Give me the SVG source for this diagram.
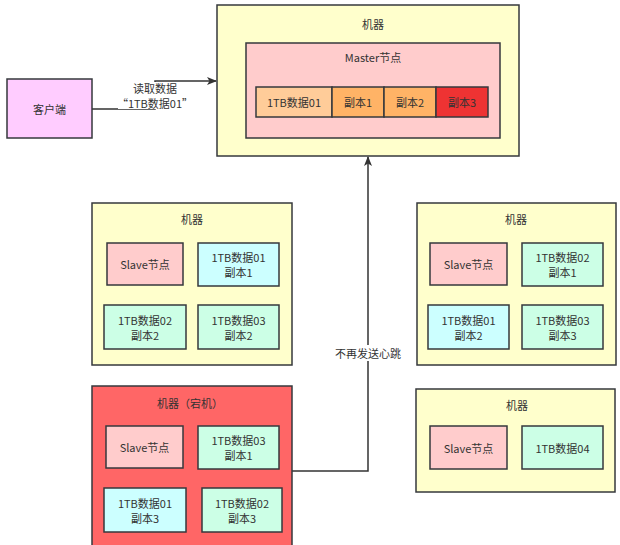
<svg xmlns="http://www.w3.org/2000/svg" width="620" height="545" viewBox="0 0 620 545">
  <defs>
    <marker id="arrow" markerWidth="10" markerHeight="10" refX="9" refY="5" orient="auto" markerUnits="userSpaceOnUse">
      <path d="M0,1 L10,5 L0,9 L2.5,5 Z" fill="#333"/>
    </marker>
    <style>
      text { font-family: "Noto Sans CJK SC", "Noto Sans", sans-serif; font-size: 11px; fill: #333; text-anchor: middle; dominant-baseline: central; }
      rect { stroke: #36393d; stroke-width: 1.5; }
      .machine { fill: #ffffcc; }
      .down { fill: #ff6666; }
      .slave { fill: #ffcccc; }
      .cyan { fill: #ccffff; }
      .mint { fill: #ccffe6; }
      .data { fill: #ffcc99; }
      .copy { fill: #ffb366; }
      .lost { fill: #ee3333; }
      .client { fill: #ffccff; }
      .edge { fill: none; stroke: #333; stroke-width: 1.5; }
      .lbl, .bg { fill: #ffffff; stroke: none; }
    </style>
  </defs>
  <rect class="bg" x="0" y="0" width="620" height="545"/>

  <!-- connectors -->
  <g id="connectors">
    <path class="edge" d="M92,109 H155 V81 H216" marker-end="url(#arrow)"/>
    <rect class="lbl" x="118" y="82" width="76" height="27"/>
    <text x="155" y="88">读取数据</text>
    <text x="155" y="103">“1TB数据01”</text>

    <path class="edge" d="M292,471 H368 V157" marker-end="url(#arrow)"/>
    <rect class="lbl" x="334" y="345" width="68" height="16"/>
    <text x="368" y="353">不再发送心跳</text>
  </g>

  <!-- client -->
  <g id="client">
    <rect class="client" x="7" y="79" width="85" height="59"/>
    <text x="49.5" y="109">客户端</text>
  </g>

  <!-- master machine -->
  <g id="master-machine">
    <rect class="machine" x="217" y="5" width="302" height="151"/>
    <text x="373" y="24">机器</text>
    <g id="master-node">
      <rect class="slave" x="246" y="43" width="254" height="95"/>
      <text x="373" y="57">Master节点</text>
      <rect class="data" x="256" y="87" width="76" height="30"/>
      <text x="294" y="102">1TB数据01</text>
      <rect class="copy" x="332" y="87" width="52" height="30"/>
      <text x="358" y="102">副本1</text>
      <rect class="copy" x="384" y="87" width="52" height="30"/>
      <text x="410" y="102">副本2</text>
      <rect class="lost" x="436" y="87" width="52" height="30"/>
      <text x="462" y="102">副本3</text>
    </g>
  </g>

  <!-- left machine -->
  <g id="machine-left">
    <rect class="machine" x="92" y="203" width="200" height="162"/>
    <text x="192" y="219">机器</text>
    <rect class="slave" x="107" y="243" width="76" height="42"/>
    <text x="145" y="264">Slave节点</text>
    <rect class="cyan" x="198" y="243" width="81" height="43"/>
    <text x="238.5" y="257">1TB数据01</text>
    <text x="238.5" y="272">副本1</text>
    <rect class="mint" x="104" y="305" width="82" height="44"/>
    <text x="145" y="320">1TB数据02</text>
    <text x="145" y="335">副本2</text>
    <rect class="mint" x="198" y="305" width="81" height="44"/>
    <text x="238.5" y="320">1TB数据03</text>
    <text x="238.5" y="335">副本2</text>
  </g>

  <!-- right machine -->
  <g id="machine-right">
    <rect class="machine" x="417" y="203" width="199" height="162"/>
    <text x="516" y="219">机器</text>
    <rect class="slave" x="430" y="243" width="77" height="42"/>
    <text x="468.5" y="264">Slave节点</text>
    <rect class="mint" x="522" y="243" width="81" height="43"/>
    <text x="562.5" y="257">1TB数据02</text>
    <text x="562.5" y="272">副本1</text>
    <rect class="cyan" x="428" y="305" width="81" height="44"/>
    <text x="468.5" y="320">1TB数据01</text>
    <text x="468.5" y="335">副本2</text>
    <rect class="mint" x="522" y="305" width="81" height="44"/>
    <text x="562.5" y="320">1TB数据03</text>
    <text x="562.5" y="335">副本3</text>
  </g>

  <!-- crashed machine -->
  <g id="machine-down">
    <rect class="down" x="92" y="386" width="200" height="170"/>
    <text x="190" y="403">机器（宕机）</text>
    <rect class="slave" x="106" y="426" width="77" height="42"/>
    <text x="144.5" y="447">Slave节点</text>
    <rect class="mint" x="198" y="426" width="81" height="43"/>
    <text x="238.5" y="440">1TB数据03</text>
    <text x="238.5" y="455">副本1</text>
    <rect class="cyan" x="104" y="488" width="82" height="44"/>
    <text x="145" y="503">1TB数据01</text>
    <text x="145" y="518">副本3</text>
    <rect class="mint" x="202" y="488" width="80" height="44"/>
    <text x="242" y="503">1TB数据02</text>
    <text x="242" y="518">副本3</text>
  </g>

  <!-- bottom right machine -->
  <g id="machine-extra">
    <rect class="machine" x="416" y="389" width="199" height="103"/>
    <text x="517" y="405">机器</text>
    <rect class="slave" x="430" y="426" width="77" height="43"/>
    <text x="468.5" y="447.5">Slave节点</text>
    <rect class="mint" x="522" y="426" width="81" height="43"/>
    <text x="562.5" y="447.5">1TB数据04</text>
  </g>
</svg>
